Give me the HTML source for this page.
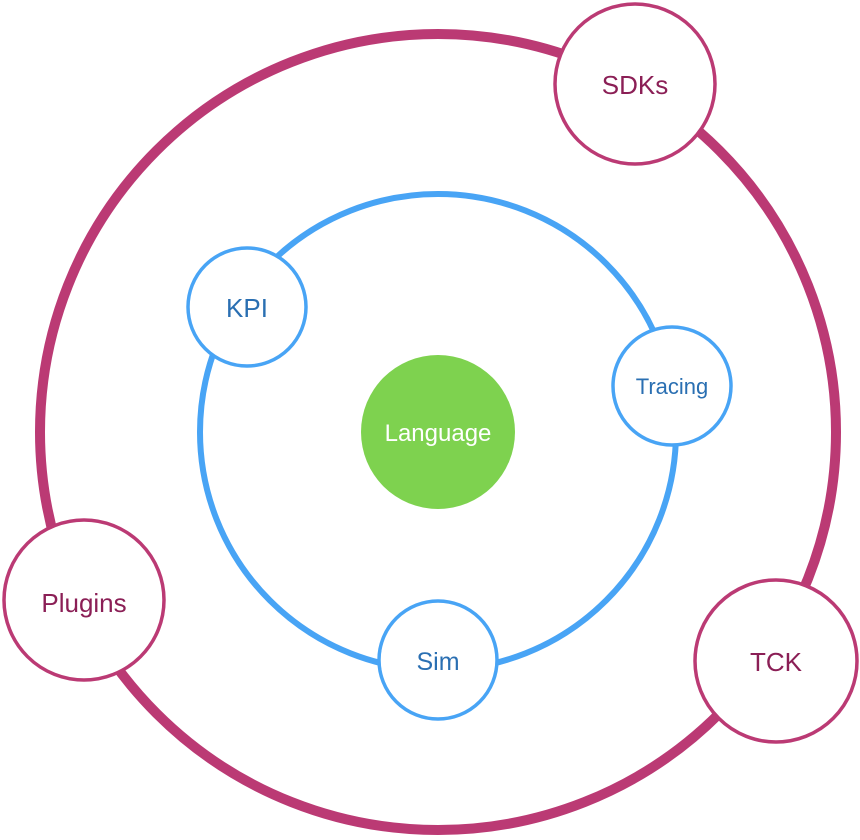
<!DOCTYPE html>
<html><head><style>html,body{margin:0;padding:0;background:#fff}</style></head>
<body>
<svg width="860" height="835" viewBox="0 0 860 835" xmlns="http://www.w3.org/2000/svg" font-family="Liberation Sans, sans-serif">
<circle cx="438" cy="432" r="398" fill="none" stroke="#bb3a74" stroke-width="10"/>
<circle cx="438" cy="432" r="238" fill="none" stroke="#48a4f5" stroke-width="6"/>
<circle cx="438" cy="432" r="77" fill="#7ed24f"/>
<text x="438" y="441" text-anchor="middle" font-size="24" fill="#fff">Language</text>
<g fill="#fff" stroke="#48a4f5" stroke-width="3.5">
<circle cx="247" cy="307" r="59"/>
<circle cx="672" cy="386" r="59"/>
<circle cx="438" cy="660" r="59"/>
</g>
<g fill="#2a6fb2" text-anchor="middle">
<text x="247" y="317" font-size="26">KPI</text>
<text x="672" y="394" font-size="22">Tracing</text>
<text x="438" y="670" font-size="25">Sim</text>
</g>
<g fill="#fff" stroke="#bb3a74" stroke-width="3.5">
<circle cx="635" cy="84" r="80"/>
<circle cx="84" cy="600" r="80"/>
<circle cx="776" cy="661" r="81"/>
</g>
<g fill="#8b1f56" text-anchor="middle" font-size="26">
<text x="635" y="94">SDKs</text>
<text x="84" y="612">Plugins</text>
<text x="776" y="671">TCK</text>
</g>
</svg>
</body></html>
